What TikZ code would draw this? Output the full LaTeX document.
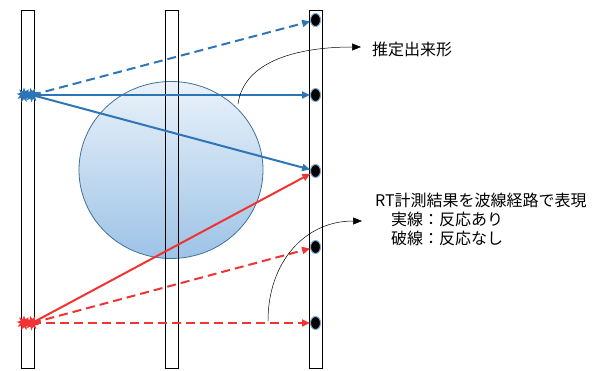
\documentclass[tikz,border=0pt]{standalone}
\usepackage{fontspec}
\setmainfont{Noto Sans CJK JP}
\usetikzlibrary{shapes.geometric,arrows.meta}
\definecolor{bl}{HTML}{2E75B6}
\definecolor{rd}{HTML}{F03434}
\definecolor{balltop}{HTML}{EAF2FA}
\definecolor{ballbot}{HTML}{9DC3E6}
\definecolor{balledge}{HTML}{41719C}
\tikzset{
  bar/.style={draw=black, line width=0.8pt, minimum width=13pt, minimum height=358pt, inner sep=0pt},
  dot/.style={ellipse, fill=black, draw=bl!60, line width=1pt, minimum width=10pt, minimum height=13pt, inner sep=0pt},
  burst/.style={star, star points=9, star point ratio=1.9, minimum size=15pt, inner sep=0pt, draw=none},
  ray/.style={line width=2pt, -{Triangle[length=8pt,width=7pt]}},
  broken/.style={ray, dash pattern=on 9pt off 5pt},
  note/.style={line width=0.5pt, black, -{Triangle[length=9pt,width=7pt]}},
  lbl/.style={font=\fontsize{16}{19}\selectfont, inner sep=0pt}
}
\begin{document}
\begin{tikzpicture}[x=1pt,y=-1pt]
\useasboundingbox (0,0) rectangle (597,371);
% ball
\node[ellipse, minimum width=184pt, minimum height=177pt, top color=balltop, bottom color=ballbot, draw=balledge, line width=0.8pt] (ball) at (171,170) {};
% bars
\node[bar] (barL) at (28,189) {};
\node[bar] (barM) at (171.5,189) {};
\node[bar] (barR) at (315.5,189) {};
% dots
\node[dot] (d1) at (315.5,20) {};
\node[dot] (d2) at (315.5,95) {};
\node[dot] (d3) at (315.5,171) {};
\node[dot] (d4) at (315.5,247) {};
\node[dot] (d5) at (315.5,323) {};
% sources
\node[burst, fill=bl] (sbA) at (24,95) {};
\node[burst, fill=bl, rotate=15] (sb) at (32,95) {};
\node[burst, fill=rd] (srA) at (24,323) {};
\node[burst, fill=rd, rotate=15] (sr) at (32,323) {};
% rays
\draw[broken, bl] (sb.center) -- (d1);
\draw[ray, bl] (sb.center) -- (d2);
\draw[ray, bl] (sb.center) -- (d3);
\draw[ray, rd] (sr.center) -- (d3);
\draw[broken, rd] (sr.center) -- (d4);
\draw[broken, rd] (sr.center) -- (d5);
% labels
\node[lbl, anchor=west] (t1) at (372,49) {推定出来形};
\node[lbl, anchor=north west, align=left] (t2) at (375,193) {RT計測結果を波線経路で表現\\　実線：反応あり\\　破線：反応なし};
% annotation arrows
\coordinate (n1s) at (238,104);
\coordinate (n1e) at (361,47);
\coordinate (n2s) at (268,321);
\coordinate (n2e) at (362,221);
\draw[note] (n1s) .. controls (244,60) and (300,47) .. (n1e);
\draw[note] (n2s) .. controls (268,262) and (305,221) .. (n2e);
\end{tikzpicture}
\end{document}
